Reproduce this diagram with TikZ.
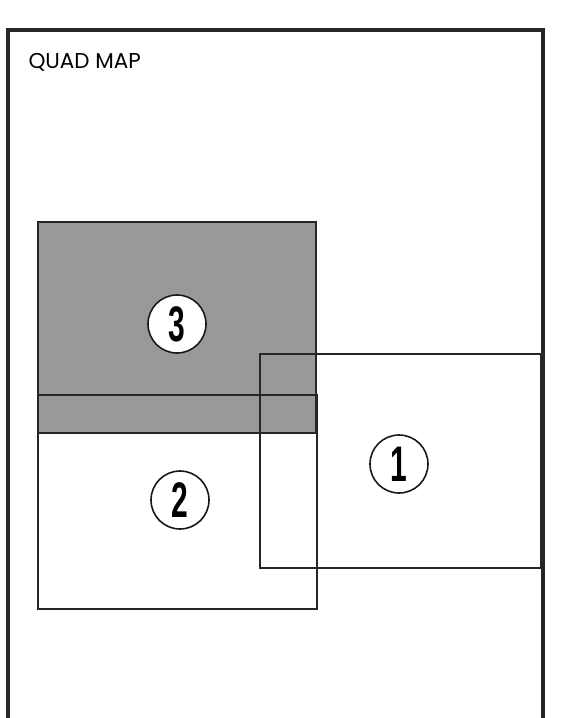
\documentclass[tikz,border=0pt]{standalone}
\usepackage{fontspec}
\setmainfont{Poppins}
\newfontfamily\digitfont{Liberation Sans}
\usetikzlibrary{positioning}

\begin{document}
\begin{tikzpicture}[
        x=1pt, y=-1pt,
        frame/.style={draw=black!85, line width=4.5pt},
        quad/.style={draw=black!85, line width=2.2pt},
        shade3/.style={fill=black!40},
        numcircle/.style={circle, draw=black!90, line width=1.6pt, fill=white,
            minimum size=58pt, inner sep=0pt,
            font=\digitfont\bfseries\fontsize{50}{50}\selectfont}
    ]

% ---------- page ----------
        \clip (0,0) rectangle (564,718);
        \fill[white] (0,0) rectangle (564,718);

% ---------- outer frame (runs off the bottom) ----------
        \draw[frame] (8,760) -- (8,30) -- (543,30) -- (543,760);
        \node[anchor=base west, font=\fontsize{21.5}{21.5}\selectfont] (title) at (25,68) {QUAD MAP};

% ---------- shaded quad 3 ----------
        \fill[shade3] (38,222) rectangle (316,433);

% ---------- quad outlines ----------
        \draw[quad] (38,222) rectangle (316,433);   % 3
        \draw[quad] (38,395) rectangle (317,609);   % 2
        \draw[quad] (260,354) rectangle (541,568);  % 1

% ---------- numbers ----------
        \node[numcircle] (n3) at (177,324) {\scalebox{0.6}[1]{3}};
        \node[numcircle] (n2) at (180,500) {\scalebox{0.6}[1]{2}};
        \node[numcircle] (n1) at (399,464) {\scalebox{0.6}[1]{1}};

    \end{tikzpicture}
\end{document}
